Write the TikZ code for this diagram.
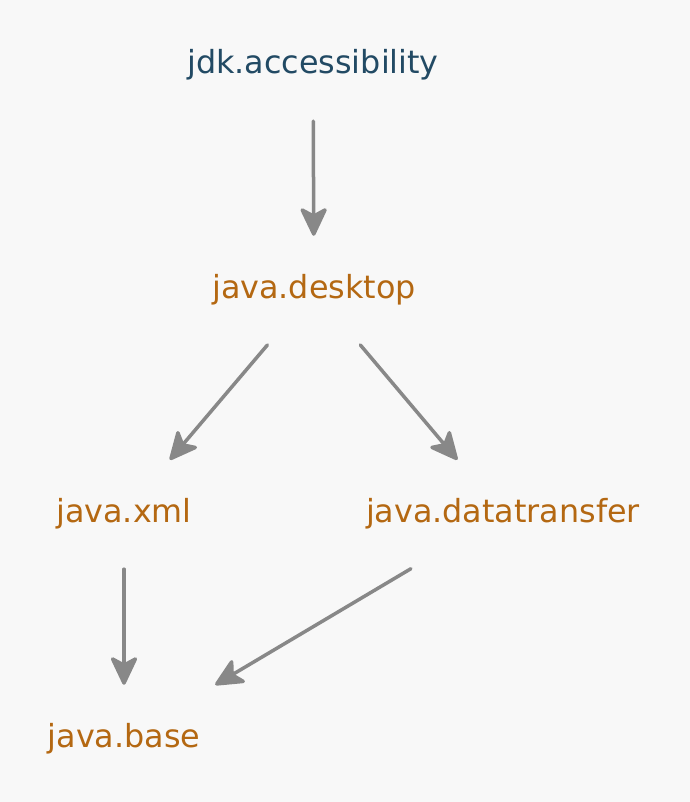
\documentclass[tikz,border=0pt]{standalone}
\usepackage{fontspec}
\setmainfont{DejaVu Sans}
\usepackage{tikz}
\usetikzlibrary{arrows.meta, positioning}
\definecolor{modorange}{RGB}{180,104,18}
\definecolor{modteal}{RGB}{34,74,100}
\definecolor{depgray}{RGB}{136,136,136}
\definecolor{bggray}{RGB}{248,248,248}

\begin{document}
\begin{tikzpicture}[x=1bp, y=-1bp,
    modbox/.style={font=\fontsize{31.8bp}{36bp}\selectfont, text=modorange,
      text height=23bp, text depth=7bp, minimum width=210bp, minimum height=108bp},
    dep/.style={draw=depgray, line width=3.5bp, line cap=round,
      -{Stealth[length=32bp, width=30bp, inset=8bp, round]}, shorten <=1bp}]
  \fill[bggray] (0,0) rectangle (690,802);
  \useasboundingbox (0,0) rectangle (690,802);

  \node[modbox, text=modteal] (access) at (313,66) {jdk.accessibility};
  \node[modbox] (desktop) at (314,290) {java.desktop};
  \node[modbox] (xml) at (124,514) {java.xml};
  \node[modbox] (transfer) at (503,514) {java.datatransfer};
  \node[modbox] (base) at (124,739) {java.base};

  \draw[dep] (access) -- (desktop);
  \draw[dep] (desktop) -- (xml);
  \draw[dep] (desktop) -- (transfer);
  \draw[dep] (xml) -- (base);
  \draw[dep] (transfer) -- (base);
\end{tikzpicture}
\end{document}
